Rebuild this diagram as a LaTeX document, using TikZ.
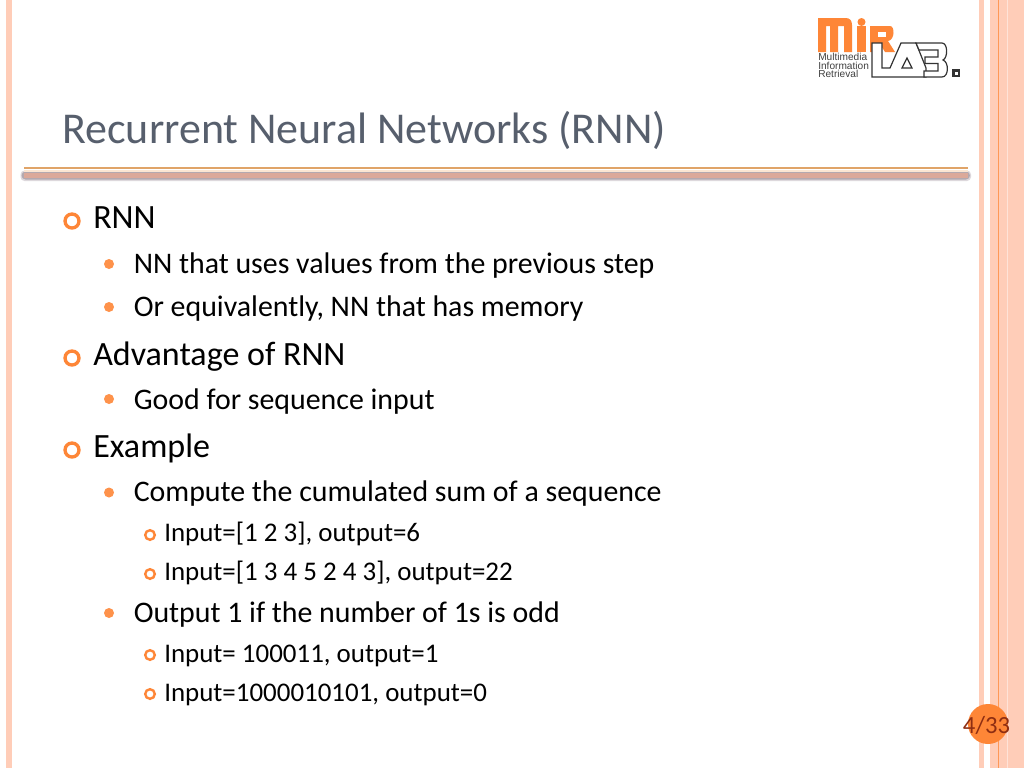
\documentclass[tikz,border=0pt]{standalone}
\usepackage{fontspec}
\setmainfont{Carlito}
\newfontfamily\logofont{Liberation Sans}
\definecolor{accent}{HTML}{FE8637}
\definecolor{stripe}{HTML}{FFCDB8}
\definecolor{titlegray}{HTML}{575F6D}
\definecolor{pagenum}{HTML}{8E2E12}
\definecolor{rulepink}{HTML}{DBA99A}
\definecolor{ruleshade}{HTML}{B3A9B0}
\definecolor{ruletop}{HTML}{E0A468}
\definecolor{rulepale}{HTML}{FBE6D2}
\newcommand{\fs}[1]{\fontsize{#1}{#1}\selectfont}
\tikzset{
  lone/.style={anchor=base west,inner sep=0pt,text=black,font=\fs{25.5}},
  ltwo/.style={anchor=base west,inner sep=0pt,text=black,font=\fs{22.4}},
  lthree/.style={anchor=base west,inner sep=0pt,text=black,font=\fs{20.2}},
  ringone/.style={circle,draw=accent,line width=2.5pt,fill=none,minimum size=10.5pt,inner sep=0pt,outer sep=0pt},
  ringthree/.style={circle,draw=accent,line width=1.8pt,fill=none,minimum size=7.2pt,inner sep=0pt,outer sep=0pt},
  dottwo/.style={circle,fill=accent!90,minimum size=7.5pt,inner sep=0pt,outer sep=0pt},
  logotext/.style={anchor=base west,inner sep=0pt,text=black!75,font=\logofont\fs{7.6}},
  lab/.style={draw=black!80,line width=0.9pt,fill=white,line join=miter}
}
\begin{document}
\begin{tikzpicture}[x=0.75pt,y=-0.75pt]
\useasboundingbox (0,0) rectangle (1024,768);
\fill[white] (0,0) rectangle (1024,768);
% stripes
\fill[stripe] (6,0) rectangle (12,768);
\fill[stripe] (979,0) rectangle (983.5,768);
\fill[stripe] (990,0) rectangle (1024,768);
\fill[stripe!55!white] (1006.5,0) rectangle (1008,768);
\draw[accent!75!stripe,line width=0.9pt] (998.7,0) -- (998.7,768);
% title
\node[anchor=base west,inner sep=0pt,text=titlegray,font=\fs{33}] (title) at (62,143) {Recurrent Neural Networks (RNN)};
% rules
\fill[ruleshade!45!white,rounded corners=3] (20.5,170.5) rectangle (971,181);
\fill[ruleshade,rounded corners=3] (21.5,171.5) rectangle (970,179.5);
\fill[rulepink] (24,172.5) rectangle (968,177.5);
\fill[rulepale] (24,170) rectangle (968,172);
\draw[draw=ruletop,line width=1.5pt*0.75] (24,168) -- (968,168);
% logo
\fill[accent] (818,18) -- (846,18) .. controls (850,18) and (852,21) .. (852,25) -- (852,52) -- (844,52) -- (844,26) -- (838,26) -- (838,52) -- (830,52) -- (830,26) -- (826,26) -- (826,52) -- (818,52) -- cycle;
\fill[accent] (857,26) rectangle (866,52);
\fill[accent] (861.5,22) circle (4);
\fill[accent] (870,26) -- (890,26) .. controls (895,26) and (895,40) .. (888,41) -- (895,52) -- (885,52) -- (880,44) -- (878,44) -- (878,52) -- (870,52) -- cycle;
\fill[white] (878,32) rectangle (886,37);
\draw[lab] (872,43) -- (882,43) -- (882,68) -- (890,68) -- (901,43) -- (916,43) -- (926,68) -- (926,77) -- (872,77) -- cycle;
\draw[lab] (902,68) -- (912,68) -- (907,58) -- cycle;
\draw[lab] (916,43) -- (942,43) .. controls (948,43) and (948,58) .. (943,60) .. controls (949,62) and (949,77) .. (942,77) -- (924,77) -- (924,71) -- (938,71) -- (938,63.5) -- (925,63.5) -- (925,57) -- (938,57) -- (938,50) -- (919,50) -- cycle;
\draw[draw=black!80,line width=1.8pt] (953.5,70.5) rectangle (959,76);
\node[logotext] (l1) at (818,60.5) {Multimedia};
\node[logotext] (l2) at (818,69) {Information};
\node[logotext] (l3) at (818,77) {Retrieval};
% bullets and text
\node[ringone] (b1) at (72,221) {};
\node[lone] (t1) at (93,228.7) {RNN};
\node[dottwo] (b2) at (109,264) {};
\node[ltwo] (t2) at (133.5,273.7) {NN that uses values from the previous step};
\node[dottwo] (b3) at (109,307) {};
\node[ltwo] (t3) at (133.5,316.7) {Or equivalently, NN that has memory};
\node[ringone] (b4) at (72,358) {};
\node[lone] (t4) at (93,365.5) {Advantage of RNN};
\node[dottwo] (b5) at (109,399) {};
\node[ltwo] (t5) at (133.5,409.5) {Good for sequence input};
\node[ringone] (b6) at (72,450) {};
\node[lone] (t6) at (93,457.5) {Example};
\node[dottwo] (b7) at (109,492.5) {};
\node[ltwo] (t7) at (133.5,501.7) {Compute the cumulated sum of a sequence};
\node[ringthree] (b8) at (150,535) {};
\node[lthree] (t8) at (164,541.5) {Input=[1 2 3], output=6};
\node[ringthree] (b9) at (150,574) {};
\node[lthree] (t9) at (164,580.5) {Input=[1 3 4 5 2 4 3], output=22};
\node[dottwo] (b10) at (109,613) {};
\node[ltwo] (t10) at (133.5,622.7) {Output 1 if the number of 1s is odd};
\node[ringthree] (b11) at (150,655) {};
\node[lthree] (t11) at (164,662.5) {Input= 100011, output=1};
\node[ringthree] (b12) at (150,694) {};
\node[lthree] (t12) at (164,701.5) {Input=1000010101, output=0};
% page number
\node[circle,fill=accent,minimum size=30pt,inner sep=0pt,outer sep=0pt] (pc) at (988,724) {};
\node[anchor=base,inner sep=0pt,text=pagenum,font=\fs{18.5}] (pn) at (986.5,733) {4/33};
\end{tikzpicture}
\end{document}
